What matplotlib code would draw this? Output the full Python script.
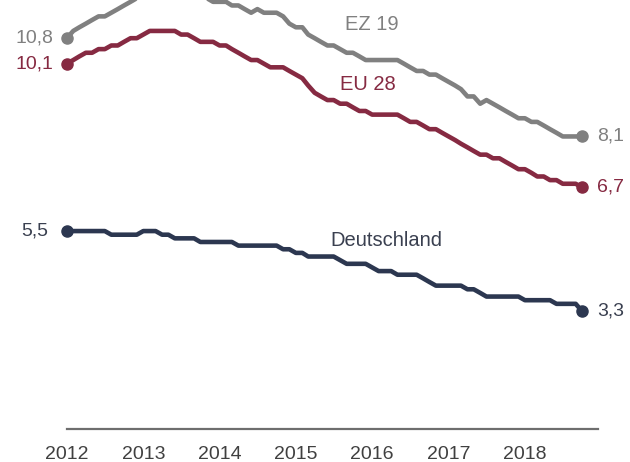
import numpy as np
import pandas as pd
import matplotlib
matplotlib.use("Agg")
import matplotlib.pyplot as plt

# monthly unemployment rates, Jan 2012 - Oct 2018
months = pd.date_range("2012-01-01", periods=82, freq="MS")

ez19 = [10.8, 11.0, 11.1, 11.2, 11.3, 11.4, 11.4, 11.5, 11.6, 11.7, 11.8, 11.9,
        12.0, 12.0, 12.1, 12.1, 12.1, 12.1, 12.1, 12.0, 11.9, 11.9, 11.9, 11.8,
        11.8, 11.8, 11.7, 11.7, 11.6, 11.5, 11.6, 11.5, 11.5, 11.5, 11.4, 11.2,
        11.1, 11.1, 10.9, 10.8, 10.7, 10.6, 10.6, 10.5, 10.4, 10.4, 10.3, 10.2,
        10.2, 10.2, 10.2, 10.2, 10.2, 10.1, 10.0, 9.9, 9.9, 9.8, 9.8, 9.7,
        9.6, 9.5, 9.4, 9.2, 9.2, 9.0, 9.1, 9.0, 8.9, 8.8, 8.7, 8.6,
        8.6, 8.5, 8.5, 8.4, 8.3, 8.2, 8.1, 8.1, 8.1, 8.1]

eu28 = [10.1, 10.2, 10.3, 10.4, 10.4, 10.5, 10.5, 10.6, 10.6, 10.7, 10.8, 10.8,
        10.9, 11.0, 11.0, 11.0, 11.0, 11.0, 10.9, 10.9, 10.8, 10.7, 10.7, 10.7,
        10.6, 10.6, 10.5, 10.4, 10.3, 10.2, 10.2, 10.1, 10.0, 10.0, 10.0, 9.9,
        9.8, 9.7, 9.5, 9.3, 9.2, 9.1, 9.1, 9.0, 9.0, 8.9, 8.8, 8.8,
        8.7, 8.7, 8.7, 8.7, 8.7, 8.6, 8.5, 8.5, 8.4, 8.3, 8.3, 8.2,
        8.1, 8.0, 7.9, 7.8, 7.7, 7.6, 7.6, 7.5, 7.5, 7.4, 7.3, 7.2,
        7.2, 7.1, 7.0, 7.0, 6.9, 6.9, 6.8, 6.8, 6.8, 6.7]

de = [5.5, 5.5, 5.5, 5.5, 5.5, 5.5, 5.5, 5.4, 5.4, 5.4, 5.4, 5.4,
      5.5, 5.5, 5.5, 5.4, 5.4, 5.3, 5.3, 5.3, 5.3, 5.2, 5.2, 5.2,
      5.2, 5.2, 5.2, 5.1, 5.1, 5.1, 5.1, 5.1, 5.1, 5.1, 5.0, 5.0,
      4.9, 4.9, 4.8, 4.8, 4.8, 4.8, 4.8, 4.7, 4.6, 4.6, 4.6, 4.6,
      4.5, 4.4, 4.4, 4.4, 4.3, 4.3, 4.3, 4.3, 4.2, 4.1, 4.0, 4.0,
      4.0, 4.0, 4.0, 3.9, 3.9, 3.8, 3.7, 3.7, 3.7, 3.7, 3.7, 3.7,
      3.6, 3.6, 3.6, 3.6, 3.6, 3.5, 3.5, 3.5, 3.5, 3.3]

series = [("EZ 19", ez19, "#808080", "#808080"),
          ("EU 28", eu28, "#862a42", "#862a42"),
          ("Deutschland", de, "#2c3750", "#3a4050")]

years = [2012, 2013, 2014, 2015, 2016, 2017, 2018]

plt.rcParams["font.family"] = ["Liberation Sans", "DejaVu Sans"]

fig = plt.figure(figsize=(6.3, 4.62), dpi=100)
ax = fig.add_axes([0.106, 0.0714, 0.843, 0.9286])

for name, vals, col, tcol in series:
    ax.plot(months, vals, color=col, lw=3.3, solid_joinstyle="round",
            solid_capstyle="round")
    ax.plot([months[0], months[-1]], [vals[0], vals[-1]], "o", color=col,
            ms=8, clip_on=False)
    start = ("%.1f" % vals[0]).replace(".", ",")
    end = ("%.1f" % vals[-1]).replace(".", ",")
    off = -13 if name == "Deutschland" else -10
    ax.annotate(start, (months[0], vals[0]), xytext=(off, 0),
                textcoords="offset points", ha="right", va="center",
                color=tcol, fontsize=14)
    ax.annotate(end, (months[-1], vals[-1]), xytext=(11, 0),
                textcoords="offset points", ha="left", va="center",
                color=tcol, fontsize=14)

# series names
ax.text(pd.Timestamp("2016-01-01"), 11.19, "EZ 19", color="#808080",
        fontsize=14.5, ha="center", va="center")
ax.text(pd.Timestamp("2015-12-10"), 9.54, "EU 28", color="#862a42",
        fontsize=14.5, ha="center", va="center")
ax.text(pd.Timestamp("2016-03-10"), 5.23, "Deutschland", color="#3a4050",
        fontsize=14.5, ha="center", va="center")

ax.set_ylim(0.06, 11.85)
ax.set_xlim(months[0], pd.Timestamp("2018-12-16"))
ax.set_xticks([pd.Timestamp("%d-01-01" % y) for y in years])
ax.set_xticklabels([str(y) for y in years])
ax.tick_params(axis="x", length=0, pad=12, labelsize=14, labelcolor="#404040")
ax.set_yticks([])
for s in ["top", "left", "right"]:
    ax.spines[s].set_visible(False)
ax.spines["bottom"].set_color("#6e6e6e")
ax.spines["bottom"].set_linewidth(1.6)

fig.savefig("out.png", dpi=100)
